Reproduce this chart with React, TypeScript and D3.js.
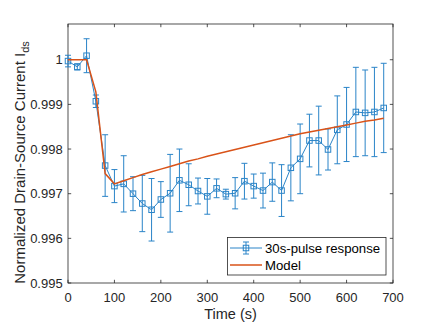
// Normalized drain-source current after a 30 s pulse, measured vs. model
import React, { useEffect, useRef } from 'react';
import * as d3 from 'd3';

const time = [0, 20, 40, 60, 80, 100, 120, 140, 160, 180, 200, 220, 240, 260, 280, 300, 320, 340,
  360, 380, 400, 420, 440, 460, 480, 500, 520, 540, 560, 580, 600, 620, 640, 660, 680];

const response = [0.99997, 0.99984, 1.00009, 0.99907, 0.99763, 0.99717, 0.99722, 0.99700, 0.99678,
  0.99664, 0.99687, 0.99701, 0.99730, 0.99720, 0.99706, 0.99694, 0.99712, 0.99699, 0.99701,
  0.99728, 0.99717, 0.99707, 0.99726, 0.99707, 0.99758, 0.99778, 0.99819, 0.99819, 0.99799,
  0.99843, 0.99855, 0.99883, 0.99881, 0.99883, 0.99892];

const errors = [0.00013, 0.00007, 0.00038, 0.00014, 0.00069, 0.00037, 0.00063, 0.00038, 0.00063,
  0.00070, 0.00040, 0.00087, 0.00070, 0.00047, 0.00029, 0.00040, 0.00021, 0.00011, 0.00035,
  0.00040, 0.00027, 0.00039, 0.00043, 0.00058, 0.00074, 0.00078, 0.00059, 0.00077, 0.00046,
  0.00076, 0.00083, 0.00100, 0.00096, 0.00100, 0.00100];

const model = [1.0, 1.0, 1.0, 0.99928, 0.99745, 0.99722, 0.99729, 0.99736, 0.99743, 0.99749,
  0.99755, 0.99761, 0.99767, 0.99773, 0.99778, 0.99784, 0.99789, 0.99794, 0.99799, 0.99804,
  0.99809, 0.99814, 0.99819, 0.99824, 0.99829, 0.99834, 0.99838, 0.99842, 0.99846, 0.99850,
  0.99854, 0.99858, 0.99862, 0.99865, 0.99869];

const xTicks = [0, 100, 200, 300, 400, 500, 600, 700];
const yTicks = [0.995, 0.996, 0.997, 0.998, 0.999, 1.0];
const legendLabels = ['30s-pulse response', 'Model'];

const BLUE = '#2a84c8';
const ORANGE = '#D95319';
const AXIS = '#262626';
const FONT = 'Liberation Sans, Arial, sans-serif';

const App = () => {
  const svgRef = useRef(null);

  useEffect(() => {
    document.body.style.margin = '0';
    const width = 436;
    const height = 326;
    const left = 68, right = 393, top = 24, bottom = 283;

    const svg = d3.select(svgRef.current)
      .attr('width', width)
      .attr('height', height);
    svg.selectAll('*').remove();

    const x = d3.scaleLinear().domain([0, 700]).range([left, right]);
    const y = d3.scaleLinear().domain([0.995, 1.0008]).range([bottom, top]);
    const fmt = (d) => (d === 1 ? '1' : d.toFixed(3));

    // axes box
    svg.append('rect')
      .attr('x', left).attr('y', top)
      .attr('width', right - left).attr('height', bottom - top)
      .attr('fill', 'white').attr('stroke', AXIS).attr('stroke-width', 0.8);

    // ticks (inward, mirrored)
    const tl = 3.2;
    xTicks.forEach((t) => {
      svg.append('line').attr('x1', x(t)).attr('x2', x(t)).attr('y1', bottom).attr('y2', bottom - tl)
        .attr('stroke', AXIS).attr('stroke-width', 0.8);
      svg.append('line').attr('x1', x(t)).attr('x2', x(t)).attr('y1', top).attr('y2', top + tl)
        .attr('stroke', AXIS).attr('stroke-width', 0.8);
      svg.append('text').attr('x', x(t)).attr('y', bottom + 18.5)
        .attr('text-anchor', 'middle').attr('font-family', FONT).attr('font-size', 13)
        .attr('fill', AXIS).text(t);
    });
    yTicks.forEach((t) => {
      svg.append('line').attr('x1', left).attr('x2', left + tl).attr('y1', y(t)).attr('y2', y(t))
        .attr('stroke', AXIS).attr('stroke-width', 0.8);
      svg.append('line').attr('x1', right).attr('x2', right - tl).attr('y1', y(t)).attr('y2', y(t))
        .attr('stroke', AXIS).attr('stroke-width', 0.8);
      svg.append('text').attr('x', left - 5.3).attr('y', y(t) + 4.6)
        .attr('text-anchor', 'end').attr('font-family', FONT).attr('font-size', 13)
        .attr('fill', AXIS).text(fmt(t));
    });

    // axis labels
    svg.append('text').attr('x', (left + right) / 2).attr('y', 318.5)
      .attr('text-anchor', 'middle').attr('font-family', FONT).attr('font-size', 14.5)
      .attr('fill', AXIS).text('Time (s)');
    const yl = svg.append('text')
      .attr('transform', `translate(25, ${(top + bottom) / 2 + 9}) rotate(-90)`)
      .attr('text-anchor', 'middle').attr('font-family', FONT).attr('font-size', 15)
      .attr('fill', AXIS);
    yl.append('tspan').text('Normalized Drain-Source Current I');
    yl.append('tspan').attr('font-size', 11).attr('dy', 3.5).text('ds');

    const data = time.map((t, i) => ({ t, v: response[i], e: errors[i], m: model[i] }));

    // error bars
    const cap = 3;
    const eb = svg.append('g').attr('stroke', BLUE).attr('stroke-width', 1).attr('fill', 'none');
    data.forEach((d) => {
      const cx = x(d.t);
      eb.append('line').attr('x1', cx).attr('x2', cx).attr('y1', y(d.v - d.e)).attr('y2', y(d.v + d.e));
      eb.append('line').attr('x1', cx - cap).attr('x2', cx + cap).attr('y1', y(d.v - d.e)).attr('y2', y(d.v - d.e));
      eb.append('line').attr('x1', cx - cap).attr('x2', cx + cap).attr('y1', y(d.v + d.e)).attr('y2', y(d.v + d.e));
    });

    // response line + square markers
    const line = d3.line().x((d) => x(d.t)).y((d) => y(d.v));
    svg.append('path').datum(data).attr('d', line)
      .attr('fill', 'none').attr('stroke', BLUE).attr('stroke-width', 1);
    const ms = 5.5;
    svg.append('g').selectAll('rect').data(data).enter().append('rect')
      .attr('x', (d) => x(d.t) - ms / 2).attr('y', (d) => y(d.v) - ms / 2)
      .attr('width', ms).attr('height', ms)
      .attr('fill', 'none').attr('stroke', BLUE).attr('stroke-width', 1);

    // model
    const mline = d3.line().x((d) => x(d.t)).y((d) => y(d.m));
    svg.append('path').datum(data).attr('d', mline)
      .attr('fill', 'none').attr('stroke', ORANGE).attr('stroke-width', 1.5);

    // legend
    const lg = svg.append('g');
    lg.append('rect').attr('x', 227.5).attr('y', 237.5).attr('width', 158.5).attr('height', 37.5)
      .attr('fill', 'white').attr('stroke', AXIS).attr('stroke-width', 0.8);
    const y1 = 248, y2 = 265;
    lg.append('line').attr('x1', 230).attr('x2', 262).attr('y1', y1).attr('y2', y1)
      .attr('stroke', BLUE).attr('stroke-width', 1);
    lg.append('line').attr('x1', 246).attr('x2', 246).attr('y1', y1 - 6).attr('y2', y1 + 6)
      .attr('stroke', BLUE).attr('stroke-width', 1);
    lg.append('line').attr('x1', 243).attr('x2', 249).attr('y1', y1 - 6).attr('y2', y1 - 6)
      .attr('stroke', BLUE).attr('stroke-width', 1);
    lg.append('line').attr('x1', 243).attr('x2', 249).attr('y1', y1 + 6).attr('y2', y1 + 6)
      .attr('stroke', BLUE).attr('stroke-width', 1);
    lg.append('rect').attr('x', 246 - ms / 2).attr('y', y1 - ms / 2).attr('width', ms).attr('height', ms)
      .attr('fill', 'none').attr('stroke', BLUE).attr('stroke-width', 1);
    lg.append('line').attr('x1', 230).attr('x2', 262).attr('y1', y2).attr('y2', y2)
      .attr('stroke', ORANGE).attr('stroke-width', 1.5);
    legendLabels.forEach((lab, i) => {
      lg.append('text').attr('x', 265).attr('y', (i === 0 ? y1 : y2) + 4.7)
        .attr('font-family', FONT).attr('font-size', 13.2).attr('fill', 'black').text(lab);
    });
  }, []);

  return (
    <div>
      <svg ref={svgRef}></svg>
    </div>
  );
};

export default App;
